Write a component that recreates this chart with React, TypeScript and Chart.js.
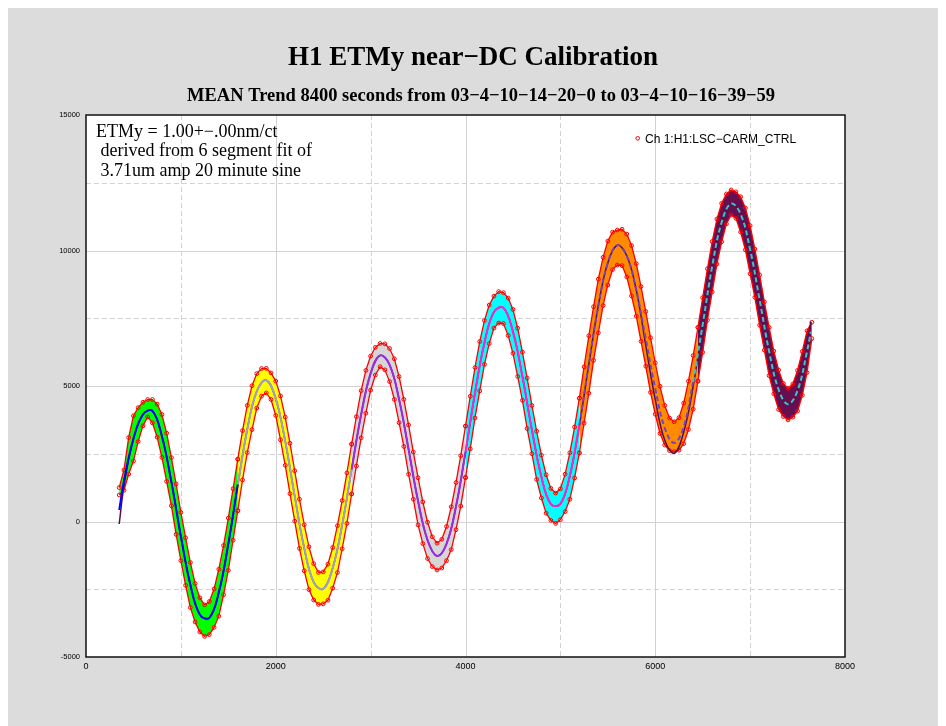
import React, { useEffect, useRef } from "react";
import { Chart, registerables } from "chart.js";

Chart.register(...registerables);

const TITLE = "H1 ETMy near\u2212DC Calibration";
const SUBTITLE =
  "MEAN Trend 8400 seconds from 03\u22124\u221210\u221214\u221220\u22120 to 03\u22124\u221210\u221216\u221239\u221259";
const NOTE_LINES = [
  "ETMy = 1.00+\u2212.00nm/ct",
  " derived from 6 segment fit of",
  " 3.71um amp 20 minute sine",
];
const LEGEND_LABEL = "Ch 1:H1:LSC\u2212CARM_CTRL";

const X_MIN = 0;
const X_MAX = 8000;
const X_STEP = 2000;
const Y_MIN = -5000;
const Y_MAX = 15000;
const Y_STEP = 5000;
const X_GRID_SOLID = [2000, 4000, 6000];
const X_GRID_DASHED = [1000, 3000, 5000, 7000];
const Y_GRID_SOLID = [0, 5000, 10000];
const Y_GRID_DASHED = [-2500, 2500, 7500, 12500];

// trend samples: time = SAMPLE_START + i * SAMPLE_STEP (seconds)
const SAMPLE_START = 350;
const SAMPLE_STEP = 50;
const TREND_CENTER = [
  1100, 1500, 2400, 3050, 3550, 3950, 4170, 4080, 3731, 3149,
  2378, 1460, 464, -544, -1498, -2333, -2988, -3437, -3628, -3554,
  -3209, -2612, -1803, -824, 249, 1359, 2434, 3403, 4210, 4807,
  5144, 5213, 5003, 4532, 3834, 2955, 1968, 932, -74, -978,
  -1714, -2237, -2499, -2490, -2225, -1720, -1005, -127, 872, 1925,
  2970, 3947, 4796, 5465, 5924, 6131, 6085, 5782, 5243, 4507,
  3628, 2663, 1683, 755, -56, -688, -1104, -1270, -1176, -824,
  -236, 557, 1510, 2561, 3660, 4741, 5741, 6598, 7285, 7736,
  7943, 7884, 7564, 7007, 6252, 5352, 4371, 3381, 2450, 1648,
  1026, 640, 509, 645, 1046, 1689, 2536, 3551, 4655, 5804,
  6926, 7963, 8848, 9548, 9998, 10194, 10123, 9805, 9262, 8536,
  7669, 6730, 5784, 4898, 4129, 3542, 3176, 3050, 3192, 3610,
  4276, 5144, 6162, 7261, 8367, 9412, 10321, 11040, 11526, 11732,
  11665, 11342, 10787, 10039, 9151, 8183, 7206, 6284, 5486, 4871,
  4476, 4330, 4451, 4834, 5456, 6278, 7050,
];
// vertical spread of the noisy trend above / below its centre at each sample
const TREND_UP = [
  150, 400, 700, 850, 650, 450, 330, 420, 600, 800,
  880, 900, 920, 880, 900, 820, 700, 620, 550, 600,
  720, 850, 920, 950, 960, 940, 920, 880, 800, 650,
  500, 440, 480, 650, 800, 900, 920, 940, 900, 860,
  780, 680, 620, 630, 650, 760, 850, 900, 920, 930,
  900, 880, 780, 640, 500, 440, 470, 600, 760, 840,
  880, 900, 880, 860, 780, 660, 540, 470, 520, 640,
  780, 880, 920, 960, 960, 940, 900, 820, 700, 580,
  540, 560, 680, 820, 880, 900, 920, 900, 880, 800,
  700, 580, 540, 560, 700, 850, 950, 1000, 1050, 1050,
  1000, 980, 900, 800, 680, 560, 660, 800, 920, 980,
  1000, 1020, 1000, 960, 860, 740, 640, 630, 640, 760,
  900, 980, 1000, 1000, 960, 920, 840, 700, 560, 500,
  500, 640, 780, 880, 900, 920, 900, 880, 800, 720,
  620, 580, 620, 740, 820, 760, 300,
];
const TREND_DOWN = [
  120, 350, 650, 820, 600, 420, 310, 440, 620, 780,
  900, 880, 940, 900, 860, 840, 720, 640, 610, 620,
  700, 880, 900, 980, 940, 960, 900, 860, 820, 620,
  520, 470, 500, 620, 820, 880, 940, 920, 920, 840,
  800, 660, 560, 550, 680, 740, 880, 880, 940, 910,
  920, 860, 800, 620, 520, 420, 490, 620, 740, 860,
  860, 920, 860, 880, 760, 680, 560, 520, 540, 620,
  800, 860, 940, 940, 980, 920, 920, 800, 720, 600,
  620, 580, 700, 800, 900, 880, 940, 880, 900, 780,
  720, 600, 580, 580, 680, 870, 930, 1020, 1030, 1070,
  980, 1000, 880, 820, 700, 730, 680, 780, 940, 960,
  1020, 1000, 1020, 940, 880, 720, 560, 470, 560, 740,
  880, 1000, 980, 1020, 940, 940, 820, 720, 540, 420,
  480, 660, 760, 900, 880, 940, 880, 900, 780, 740,
  600, 580, 600, 760, 800, 780, 300,
];
// sample index where each of the 6 segments starts / ends
const SEGMENT_BOUNDS = [0, 25, 49, 73, 97, 122, 146];
const SEGMENT_FILLS = ["#00ff00", "#ffff00", "#d6d6d6", "#00ffff", "#ff8c00", "#650f50"];

// fitted sine curves
const FIT_TIMES = [
  350, 400, 500, 600, 700, 800, 900, 1000, 1100, 1200, 1300, 1400, 1500, 1600,
  1700, 1800, 1900, 2000, 2100, 2200, 2300, 2400, 2500, 2600, 2700, 2800,
  2900, 3000, 3100, 3200, 3300, 3400, 3500, 3600, 3700, 3800, 3900, 4000,
  4100, 4200, 4300, 4400, 4500, 4600, 4700, 4800, 4900, 5000, 5100, 5200,
  5300, 5400, 5500, 5600, 5700, 5800, 5900, 6000, 6100, 6200, 6300, 6400,
  6500, 6600, 6700, 6800, 6900, 7000, 7100, 7200, 7300, 7400, 7500, 7600, 7640,
];
const FIT_SEGMENT = [
  424, 1500, 3050, 3950, 4080, 3149, 1460, -544, -2333, -3437, -3554, -2612, -824, 1359,
  3403, 4807, 5213, 4532, 2955, 932, -978, -2237, -2490, -1720, -127, 1925,
  3947, 5465, 6131, 5782, 4507, 2663, 755, -688, -1270, -824, 557, 2561,
  4741, 6598, 7736, 7884, 7007, 5352, 3381, 1648, 640, 645, 1689, 3551,
  5804, 7963, 9548, 10194, 9805, 8536, 6730, 4898, 3450, 2900, 3500, 5144,
  7261, 9412, 11040, 11732, 11342, 10039, 8183, 6284, 4871, 4330, 4834, 6278, 7004,
];
const FIT_OVERALL = [
  -92, 1300, 3050, 3950, 4080, 3149, 1460, -544, -2333, -3437, -3554, -2612, -824, 1359,
  3403, 4807, 5213, 4532, 2955, 932, -978, -2237, -2490, -1720, -127, 1925,
  3947, 5465, 6131, 5782, 4507, 2663, 755, -688, -1270, -824, 557, 2561,
  4741, 6598, 7736, 7884, 7007, 5352, 3381, 1648, 640, 645, 1689, 3551,
  5804, 7963, 9548, 10194, 9805, 8536, 6500, 4500, 3000, 2520, 3300, 5000,
  7261, 9412, 11040, 11732, 11342, 10039, 8183, 6284, 4871, 4330, 4900, 6450, 7373,
];
const FIT_BOUNDS = [0, 13, 25, 37, 49, 61, 74];
const FIT_COLORS = ["#0000ff", "#a49cc8", "#9a2be0", "#ff22cc", "#7a3fc4", "#3cc4c4"];
const FIT_OVERALL_COLOR = "#5a0d4c";
const MARKER_RED = "#ff0000";

const BG_GRAY = "#dcdcdc";
const GRID_COLOR = "#d2d2d2";

const decorPlugin = {
  id: "decor",
  beforeDraw(chart: any) {
    const { ctx, chartArea } = chart;
    ctx.save();
    ctx.fillStyle = BG_GRAY;
    ctx.fillRect(0, 0, chart.width, chart.height);
    ctx.fillStyle = "#ffffff";
    ctx.fillRect(chartArea.left, chartArea.top, chartArea.right - chartArea.left, chartArea.bottom - chartArea.top);
    ctx.restore();
  },
  beforeDatasetsDraw(chart: any) {
    const { ctx, chartArea, scales } = chart;
    const xs = scales.x;
    const ys = scales.y;
    ctx.save();
    ctx.strokeStyle = GRID_COLOR;
    ctx.lineWidth = 1;
    const vline = (v: number) => {
      const px = Math.round(xs.getPixelForValue(v)) + 0.5;
      ctx.beginPath();
      ctx.moveTo(px, chartArea.top);
      ctx.lineTo(px, chartArea.bottom);
      ctx.stroke();
    };
    const hline = (v: number) => {
      const py = Math.round(ys.getPixelForValue(v)) + 0.5;
      ctx.beginPath();
      ctx.moveTo(chartArea.left, py);
      ctx.lineTo(chartArea.right, py);
      ctx.stroke();
    };
    ctx.setLineDash([]);
    X_GRID_SOLID.forEach(vline);
    Y_GRID_SOLID.forEach(hline);
    ctx.setLineDash([5, 3]);
    X_GRID_DASHED.forEach(vline);
    Y_GRID_DASHED.forEach(hline);
    ctx.restore();
  },
  afterDatasetsDraw(chart: any) {
    const { ctx, chartArea } = chart;
    ctx.save();
    ctx.strokeStyle = "#111111";
    ctx.lineWidth = 1.5;
    ctx.strokeRect(chartArea.left, chartArea.top, chartArea.right - chartArea.left, chartArea.bottom - chartArea.top);
    ctx.restore();
  },
  afterDraw(chart: any) {
    const { ctx, chartArea } = chart;
    ctx.save();
    ctx.fillStyle = "#000000";
    ctx.textAlign = "center";
    ctx.textBaseline = "alphabetic";
    ctx.font = "bold 27px 'Liberation Serif', 'Times New Roman', serif";
    ctx.fillText(TITLE, chart.width / 2, 59);
    ctx.font = "bold 18.5px 'Liberation Serif', 'Times New Roman', serif";
    ctx.fillText(SUBTITLE, chart.width / 2 + 8, 95);

    ctx.textAlign = "left";
    ctx.font = "18px 'Liberation Serif', 'Times New Roman', serif";
    const nb = [130.7, 150, 170];
    NOTE_LINES.forEach((t, i) => ctx.fillText(t, chartArea.left + 10, nb[i]));

    // legend
    ctx.strokeStyle = MARKER_RED;
    ctx.lineWidth = 1;
    ctx.beginPath();
    ctx.arc(629.7, 132.3, 1.8, 0, Math.PI * 2);
    ctx.stroke();
    ctx.font = "12px 'Liberation Sans', Arial, sans-serif";
    ctx.fillStyle = "#000000";
    ctx.fillText(LEGEND_LABEL, 637, 137.3);
    ctx.restore();
  },
};

export default function App() {
  const canvasRef = useRef<HTMLCanvasElement | null>(null);

  useEffect(() => {
    const canvas = canvasRef.current;
    if (!canvas) return;
    const times = TREND_CENTER.map((_, i) => SAMPLE_START + i * SAMPLE_STEP);
    const datasets: any[] = [];

    for (let s = 0; s < 6; s++) {
      const lower: { x: number; y: number }[] = [];
      const upper: { x: number; y: number }[] = [];
      for (let i = SEGMENT_BOUNDS[s]; i <= SEGMENT_BOUNDS[s + 1]; i++) {
        lower.push({ x: times[i], y: TREND_CENTER[i] - TREND_DOWN[i] });
        upper.push({ x: times[i], y: TREND_CENTER[i] + TREND_UP[i] });
      }
      const common = {
        borderColor: MARKER_RED,
        borderWidth: 1.3,
        pointRadius: 1.9,
        pointHoverRadius: 0,
        pointBorderColor: MARKER_RED,
        pointBackgroundColor: "rgba(0,0,0,0)",
        pointBorderWidth: 1,
        tension: 0,
      };
      datasets.push({ ...common, data: lower, fill: false, order: 2 });
      datasets.push({ ...common, data: upper, fill: "-1", backgroundColor: SEGMENT_FILLS[s], order: 3 });
    }

    datasets.push({
      data: FIT_TIMES.map((t, i) => ({ x: t, y: FIT_OVERALL[i] })),
      borderColor: FIT_OVERALL_COLOR,
      borderWidth: 1.5,
      pointRadius: 0,
      tension: 0.4,
      fill: false,
      order: 1,
    });

    for (let s = 0; s < 6; s++) {
      const pts: { x: number; y: number }[] = [];
      for (let i = FIT_BOUNDS[s]; i <= FIT_BOUNDS[s + 1]; i++) pts.push({ x: FIT_TIMES[i], y: FIT_SEGMENT[i] });
      datasets.push({
        data: pts,
        borderColor: FIT_COLORS[s],
        borderWidth: 2,
        borderDash: s >= 4 ? [5, 3] : [],
        pointRadius: 0,
        tension: 0.4,
        fill: false,
        order: 0,
      });
    }

    const chart = new Chart(canvas, {
      type: "line",
      data: { datasets },
      options: {
        responsive: false,
        devicePixelRatio: 1,
        animation: false,
        events: [],
        layout: { padding: { left: 38, top: 109, right: 93, bottom: 39 } },
        plugins: {
          legend: { display: false },
          title: { display: false },
          tooltip: { enabled: false },
        },
        scales: {
          x: {
            type: "linear",
            min: X_MIN,
            max: X_MAX,
            afterFit: (sc: any) => {
              sc.height = 30;
            },
            grid: { display: false, drawTicks: false },
            border: { display: false },
            ticks: {
              stepSize: X_STEP,
              padding: 4,
              color: "#000000",
              font: { family: "'Liberation Sans', Arial, sans-serif", size: 9 },
              callback: (v: any) => String(v),
              maxRotation: 0,
            },
          },
          y: {
            type: "linear",
            min: Y_MIN,
            max: Y_MAX,
            afterFit: (sc: any) => {
              sc.width = 40;
            },
            grid: { display: false, drawTicks: false },
            border: { display: false },
            ticks: {
              stepSize: Y_STEP,
              padding: 6,
              color: "#000000",
              font: { family: "'Liberation Sans', Arial, sans-serif", size: 7.5 },
              callback: (v: any) => String(v),
            },
          },
        },
      } as any,
      plugins: [decorPlugin],
    });
    return () => chart.destroy();
  }, []);

  return (
    <div style={{ marginTop: -2 }}>
      <canvas ref={canvasRef} width={930} height={720} style={{ display: "block" }} />
    </div>
  );
}
